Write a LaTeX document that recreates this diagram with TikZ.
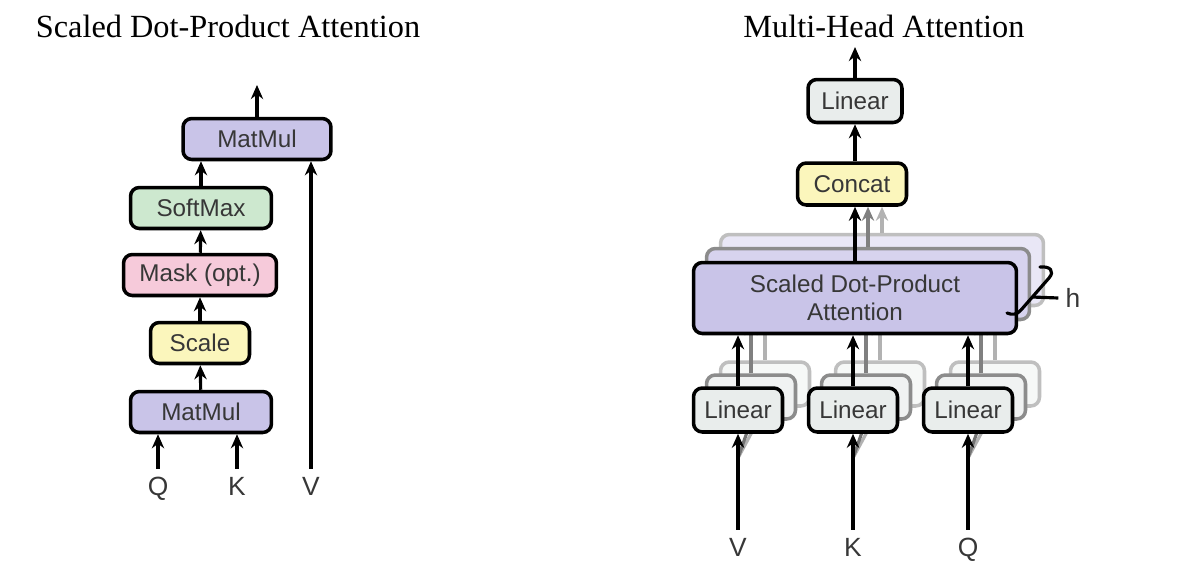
\documentclass[tikz,border=0pt]{standalone}
\usepackage{fontspec}
\setmainfont{Liberation Serif}
\setsansfont{Liberation Sans}
\usetikzlibrary{arrows.meta}

\definecolor{matmulc}{RGB}{201,196,232}
\definecolor{softmaxc}{RGB}{205,232,207}
\definecolor{maskc}{RGB}{246,202,218}
\definecolor{scalec}{RGB}{251,246,188}
\definecolor{linearc}{RGB}{233,237,236}
\definecolor{textc}{RGB}{55,55,55}

\begin{document}
\begin{tikzpicture}[
   x=0.02cm, y=-0.02cm,
   box/.style={rectangle, rounded corners=5pt, draw, line width=2pt, minimum height=0.82cm,
      font=\sffamily\fontsize{13.8}{16}\selectfont, text=textc},
   ghostb/.style={box, draw=black!45, fill=matmulc!75},
   ghostc/.style={box, draw=black!25, fill=matmulc!40},
   ghostlinb/.style={box, draw=black!45, fill=linearc!70},
   ghostlinc/.style={box, draw=black!25, fill=linearc!40},
   arrow/.style={-{Stealth[length=8pt,width=7pt]}, line width=1.8pt},
   ghostarrowb/.style={arrow, draw=black!50, color=black!50},
   ghostarrowc/.style={arrow, draw=black!30, color=black!30},
   title/.style={font=\fontsize{18.4}{22}\selectfont},
   label/.style={font=\sffamily\fontsize{15}{18}\selectfont, text=textc, inner sep=4pt,
      text height=11pt, text depth=0pt}
]
\useasboundingbox (0,0) rectangle (1200,575);

% Titles
\node[title] (titleL) at (228,26) {Scaled Dot-Product Attention};
\node[title] (titleR) at (884,26) {Multi-Head Attention};

% Scaled Dot-Product Attention
\node[box, fill=matmulc, minimum width=2.96cm] (mmtop) at (257,139) {MatMul};
\node[box, fill=softmaxc, minimum width=2.82cm] (softmax) at (201,208) {SoftMax};
\node[box, fill=maskc, minimum width=3.06cm] (mask) at (200,275) {Mask (opt.)};
\node[box, fill=scalec, minimum width=1.98cm] (scale) at (200,343) {Scale};
\node[box, fill=matmulc, minimum width=2.82cm] (mmbot) at (201,412) {MatMul};

\node[label] (labQ) at (158,486) {Q};
\node[label] (labK) at (237,486) {K};
\node[label] (labV) at (311,486) {V};
\coordinate (outL) at (257,85);

\draw[arrow] (mmbot) -- (scale);
\draw[arrow] (scale) -- (mask);
\draw[arrow] (mask) -- (softmax);
\draw[arrow] (softmax.north) -- (softmax.north |- mmtop.south);
\draw[arrow] (mmtop) -- (outL);
\draw[arrow] (labQ.north) -- (labQ.north |- mmbot.south);
\draw[arrow] (labK.north) -- (labK.north |- mmbot.south);
\draw[arrow] (labV.north) -- (labV.north |- mmtop.south);

% Multi-Head Attention: stacked heads behind
\node[ghostc, minimum width=6.46cm, minimum height=1.42cm] (attnc) at (882,270) {};
\node[ghostb, minimum width=6.46cm, minimum height=1.42cm] (attnb) at (868,284) {};

\node[ghostlinc, minimum width=1.78cm, minimum height=0.88cm] (linVc) at (765,384) {};
\node[ghostlinb, minimum width=1.78cm, minimum height=0.88cm] (linVb) at (751,397) {};
\node[ghostlinc, minimum width=1.78cm, minimum height=0.88cm] (linKc) at (880,384) {};
\node[ghostlinb, minimum width=1.78cm, minimum height=0.88cm] (linKb) at (866,397) {};
\node[ghostlinc, minimum width=1.78cm, minimum height=0.88cm] (linQc) at (995,384) {};
\node[ghostlinb, minimum width=1.78cm, minimum height=0.88cm] (linQb) at (981,397) {};

\coordinate (forkV) at (738,458);
\coordinate (forkK) at (853,458);
\coordinate (forkQ) at (968,458);
\draw[black!30, line width=1.8pt] (forkV) -- (linVc.south);
\draw[black!55, line width=1.8pt] (forkV) -- (linVb.south);
\draw[black!30, line width=1.8pt] (forkK) -- (linKc.south);
\draw[black!55, line width=1.8pt] (forkK) -- (linKb.south);
\draw[black!30, line width=1.8pt] (forkQ) -- (linQc.south);
\draw[black!55, line width=1.8pt] (forkQ) -- (linQb.south);

\draw[ghostarrowc] (linVc.north) -- (linVc.north |- attnc.south);
\draw[ghostarrowb] (linVb.north) -- (linVb.north |- attnb.south);
\draw[ghostarrowc] (linKc.north) -- (linKc.north |- attnc.south);
\draw[ghostarrowb] (linKb.north) -- (linKb.north |- attnb.south);
\draw[ghostarrowc] (linQc.north) -- (linQc.north |- attnc.south);
\draw[ghostarrowb] (linQb.north) -- (linQb.north |- attnb.south);

% Multi-Head Attention: front head
\node[box, fill=linearc, minimum width=1.88cm, minimum height=0.86cm] (linout) at (855,101) {Linear};
\node[box, fill=scalec, minimum width=2.18cm, minimum height=0.84cm] (concat) at (852,184) {Concat};
\node[box, fill=matmulc, minimum width=6.46cm, minimum height=1.42cm, align=center] (attn) at (855,298)
   {Scaled Dot-Product\\Attention};
\node[box, fill=linearc, minimum width=1.78cm, minimum height=0.88cm] (linV) at (738,410) {Linear};
\node[box, fill=linearc, minimum width=1.78cm, minimum height=0.88cm] (linK) at (853,410) {Linear};
\node[box, fill=linearc, minimum width=1.78cm, minimum height=0.88cm] (linQ) at (968,410) {Linear};

\node[label] (labV2) at (738,547) {V};
\node[label] (labK2) at (853,547) {K};
\node[label] (labQ2) at (968,547) {Q};
\coordinate (outR) at (855,47);

\draw[arrow] (labV2.north) -- (linV);
\draw[arrow] (labK2.north) -- (linK);
\draw[arrow] (labQ2.north) -- (linQ);
\draw[arrow] (linV.north) -- (linV.north |- attn.south);
\draw[arrow] (linK.north) -- (linK.north |- attn.south);
\draw[arrow] (linQ.north) -- (linQ.north |- attn.south);
\draw[ghostarrowc] (attnc.north) -- (attnc.north |- concat.south);
\draw[ghostarrowb] (attnb.north) -- (attnb.north |- concat.south);
\draw[arrow] (attn.north) -- (attn.north |- concat.south);
\draw[arrow] (concat.north -| linout) -- (linout);
\draw[arrow] (linout) -- (outR);

% Heads count
\draw[line width=1.8pt, line cap=round] (1040,267) .. controls (1050,266) and (1055,271) .. (1049,278)
   -- (1021,310) .. controls (1017,315) and (1012,315) .. (1007,313);
\node[label] (labH) at (1073,298) {h};
\coordinate (hbrace) at (1032,297);
\draw[line width=1.8pt] (hbrace) -- (labH.west);

\end{tikzpicture}
\end{document}
